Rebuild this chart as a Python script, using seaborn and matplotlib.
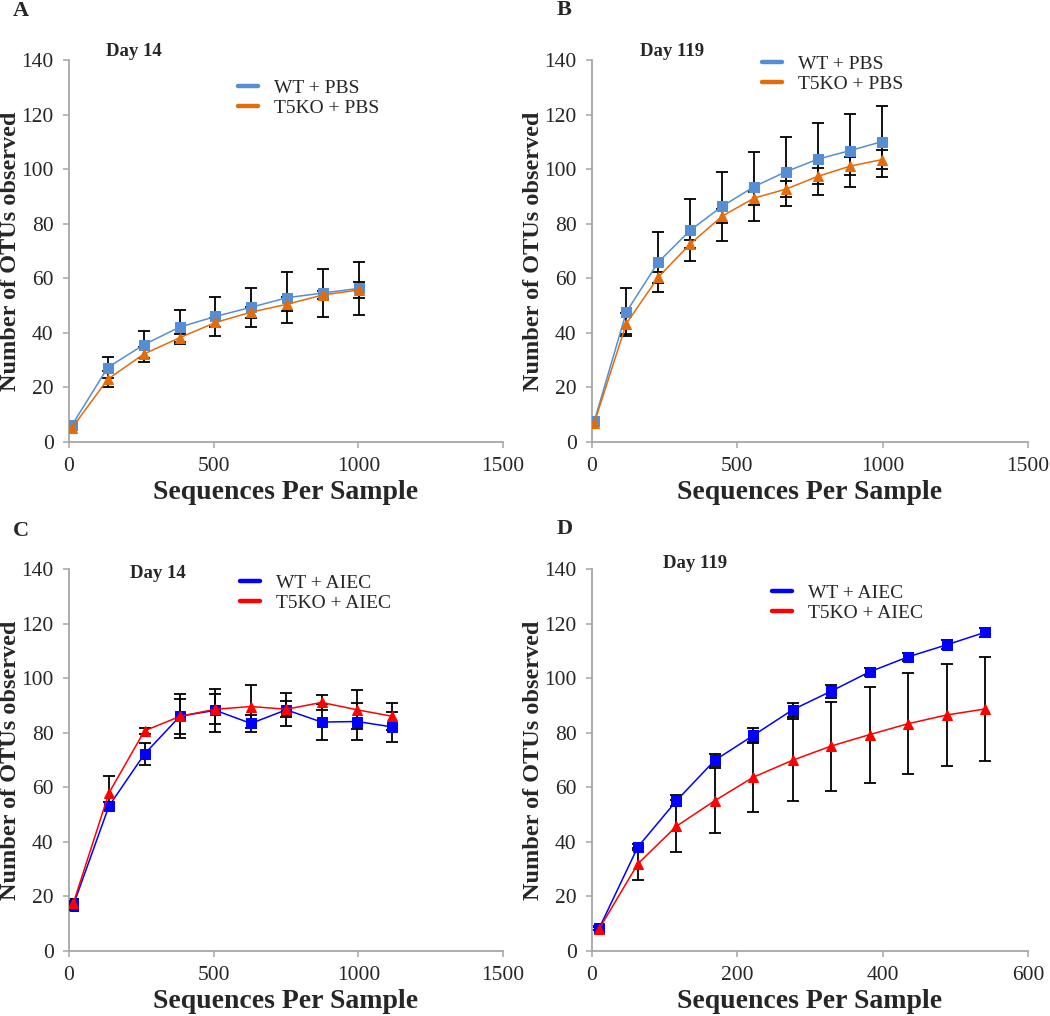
import matplotlib.pyplot as plt
import pandas as pd
import seaborn as sns
from matplotlib.lines import Line2D

sns.set_style("ticks")
plt.rcParams["font.family"] = ["Liberation Serif", "DejaVu Serif"]

# Panel A: Day 14, PBS
a_x = [10, 134, 258, 382, 506, 630, 754, 878, 1002]
a_wt = [6.1, 27.3, 35.6, 42.1, 46.0, 49.4, 52.9, 54.6, 56.3]
a_wt_err = [1.0, 3.8, 4.9, 6.2, 7.0, 7.1, 9.4, 8.9, 9.7]
a_ko = [5.1, 23.0, 32.2, 38.2, 43.8, 47.6, 50.5, 53.9, 55.7]
a_ko_err = [0.8, 3.0, 2.7, 1.5, 1.5, 2.0, 2.5, 1.5, 3.0]

# Panel B: Day 119, PBS
b_x = [8, 118, 228, 338, 448, 558, 668, 778, 888, 998]
b_wt = [7.6, 47.6, 65.9, 77.6, 86.4, 93.6, 99.1, 103.7, 106.8, 110.1]
b_wt_err = [0.8, 8.9, 11.1, 11.3, 12.6, 12.6, 12.6, 13.3, 13.3, 13.1]
b_ko = [7.0, 43.4, 60.4, 72.6, 82.8, 89.4, 92.7, 97.4, 101.1, 103.5]
b_ko_err = [0.6, 4.0, 2.0, 1.5, 2.7, 2.4, 2.8, 3.0, 3.3, 3.4]

# Panel C: Day 14, AIEC
c_x = [15, 138, 261, 384, 506, 629, 751, 873, 996, 1118]
c_wt = [16.8, 53.1, 72.2, 86.1, 88.2, 83.4, 88.4, 83.9, 84.1, 82.1]
c_wt_err = [2.2, 1.5, 4.1, 8.0, 7.9, 3.0, 6.0, 6.7, 6.9, 5.5]
c_ko = [17.5, 57.9, 80.7, 86.0, 88.6, 89.6, 88.6, 91.1, 88.4, 86.0]
c_ko_err = [1.5, 6.1, 1.0, 6.5, 5.5, 8.0, 3.0, 2.8, 7.1, 5.0]

# Panel D: Day 119, AIEC
d_x = [10, 63, 116, 169, 222, 276, 329, 382, 435, 488, 541]
d_wt = [8.4, 38.1, 55.0, 69.9, 79.0, 88.4, 95.2, 102.3, 107.8, 112.2, 116.8]
d_wt_err = [0.8, 1.2, 2.0, 2.2, 2.6, 2.5, 2.4, 1.6, 1.4, 1.6, 1.6]
d_ko = [8.2, 31.9, 45.7, 55.1, 63.7, 69.9, 75.1, 79.3, 83.3, 86.5, 88.7]
d_ko_err = [0.6, 6.0, 9.5, 11.9, 12.9, 15.1, 16.3, 17.6, 18.6, 18.7, 19.2]

pbs_labels = ["WT + PBS", "T5KO + PBS"]
aiec_labels = ["WT + AIEC", "T5KO + AIEC"]
pbs_colors = ["#558ED5", "#E36C09"]
aiec_colors = ["#0000FF", "#FF0000"]

W, H = 1050, 1016
fig = plt.figure(figsize=(W / 100, H / 100), dpi=100)
GRAY = "#A6A6A6"


def draw_panel(rect, x, wt, wt_err, ko, ko_err, labels, colors, xmax, xstep, leg_xy):
    ax = fig.add_axes(rect)
    df = pd.DataFrame({
        "x": list(x) + list(x),
        "y": list(wt) + list(ko),
        "group": [labels[0]] * len(x) + [labels[1]] * len(x),
    })
    # error bars first so the markers sit on top
    for vals, errs in [(wt, wt_err), (ko, ko_err)]:
        ax.errorbar(x, vals, yerr=errs, fmt="none", ecolor="black",
                    elinewidth=1.3, capsize=4.5, capthick=1.3, zorder=1)
    n_before = len(ax.lines)
    sns.lineplot(data=df, x="x", y="y", hue="group", style="group",
                 palette=dict(zip(labels, colors)),
                 markers={labels[0]: "s", labels[1]: "^"}, dashes=False,
                 markersize=7.5, linewidth=1.1, legend=False, ax=ax, zorder=3)
    for line in ax.lines[n_before:]:
        line.set_markeredgecolor(line.get_color())

    ax.set_xlim(0, xmax)
    ax.set_ylim(0, 140)
    ax.set_xticks(range(0, xmax + 1, xstep))
    ax.set_yticks(range(0, 141, 20))
    ax.set_xlabel("Sequences Per Sample", fontsize=20, fontweight="bold")
    ax.set_ylabel("Number of OTUs observed", fontsize=17.5, fontweight="bold")
    ax.xaxis.set_label_coords(0.5, -0.1)
    ax.yaxis.set_label_coords(-0.11, 0.5)
    ax.tick_params(labelsize=15.5, length=4, width=1.1, color=GRAY, pad=7)
    for side in ["top", "right"]:
        ax.spines[side].set_visible(False)
    for side in ["left", "bottom"]:
        ax.spines[side].set_color(GRAY)
        ax.spines[side].set_linewidth(1.3)

    handles = [Line2D([], [], color=c, lw=3.2) for c in colors]
    ax.legend(handles, labels, loc="upper left",
              bbox_to_anchor=(leg_xy[0] / W, 1 - leg_xy[1] / H),
              bbox_transform=fig.transFigure, frameon=False, fontsize=14,
              borderpad=0, borderaxespad=0, handlelength=1.05,
              handletextpad=0.8, labelspacing=0.12)
    return ax


top = (H - 442) / H
bot = (H - 951) / H
hgt = 382 / H
draw_panel([69 / W, top, 434 / W, hgt], a_x, a_wt, a_wt_err, a_ko, a_ko_err,
           pbs_labels, pbs_colors, 1500, 500, (238, 79))
draw_panel([592 / W, top, 436 / W, hgt], b_x, b_wt, b_wt_err, b_ko, b_ko_err,
           pbs_labels, pbs_colors, 1500, 500, (762, 55))
draw_panel([69 / W, bot, 434 / W, hgt], c_x, c_wt, c_wt_err, c_ko, c_ko_err,
           aiec_labels, aiec_colors, 1500, 500, (240, 574))
draw_panel([592 / W, bot, 436 / W, hgt], d_x, d_wt, d_wt_err, d_ko, d_ko_err,
           aiec_labels, aiec_colors, 600, 200, (772, 584))

# panel letters and day labels
for letter, px, py in [("A", 13, 11), ("B", 557, 10), ("C", 13, 531), ("D", 557, 529)]:
    fig.text(px / W, 1 - py / H, letter, fontsize=16, fontweight="bold",
             ha="left", va="center")
for txt, px, py in [("Day 14", 106, 52), ("Day 119", 640, 52),
                    ("Day 14", 130, 573), ("Day 119", 663, 564)]:
    fig.text(px / W, 1 - py / H, txt, fontsize=13.5, fontweight="bold",
             ha="left", va="center")

plt.savefig("out.png", dpi=100)
